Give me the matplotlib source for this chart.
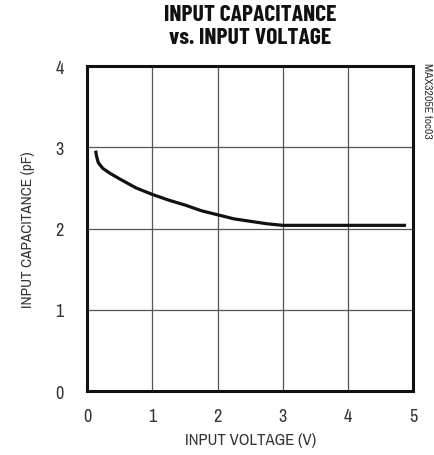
import matplotlib
matplotlib.use("Agg")
import matplotlib.pyplot as plt

plt.rcParams['font.family'] = ['Archivo Narrow', 'Liberation Sans Narrow', 'DejaVu Sans']

voltage = [0.13, 0.14, 0.17, 0.24, 0.35, 0.5, 0.75, 1.0, 1.25, 1.5, 1.75, 2.0, 2.25, 2.5, 2.75, 3.0, 3.5, 4.0, 4.5, 4.89]
capacitance = [2.96, 2.90, 2.81, 2.74, 2.68, 2.61, 2.50, 2.42, 2.35, 2.29, 2.22, 2.17, 2.12, 2.09, 2.06, 2.04, 2.04, 2.04, 2.04, 2.04]
xticks = [0, 1, 2, 3, 4, 5]
yticks = [0, 1, 2, 3, 4]

fig = plt.figure(figsize=(4.34, 4.56), dpi=100)
ax = fig.add_axes([0.201, 0.140, 0.751, 0.713])
ax.plot(voltage, capacitance, color='#111111', lw=2.3, solid_capstyle='butt')
ax.set_xlim(0, 5)
ax.set_ylim(0, 4)
ax.set_xticks(xticks)
ax.set_yticks(yticks)
ax.grid(True, color='#555555', lw=0.9)
ax.set_axisbelow(True)
for s in ax.spines.values():
    s.set_linewidth(2.2)
    s.set_color('#111111')
ax.tick_params(length=0, labelsize=13, pad=12, colors='#333333')
ax.tick_params(axis='y', pad=17)
ax.set_xlabel('INPUT VOLTAGE (V)', fontsize=12, color='#333333', labelpad=6)
ax.set_ylabel('INPUT CAPACITANCE (pF)', fontsize=11, color='#333333', labelpad=15)
fig.text(0.576, 0.988, 'INPUT CAPACITANCE\nvs. INPUT VOLTAGE', ha='center', va='top',
         fontsize=17, fontweight='bold', linespacing=1.15, color='#111111',
         family=['Barlow Condensed', 'Archivo Narrow', 'DejaVu Sans'])
fig.text(0.985, 0.862, 'MAX3205E toc03', rotation=270, ha='center', va='top',
         fontsize=8.5, color='#333333')
fig.savefig('out.png', dpi=100)
